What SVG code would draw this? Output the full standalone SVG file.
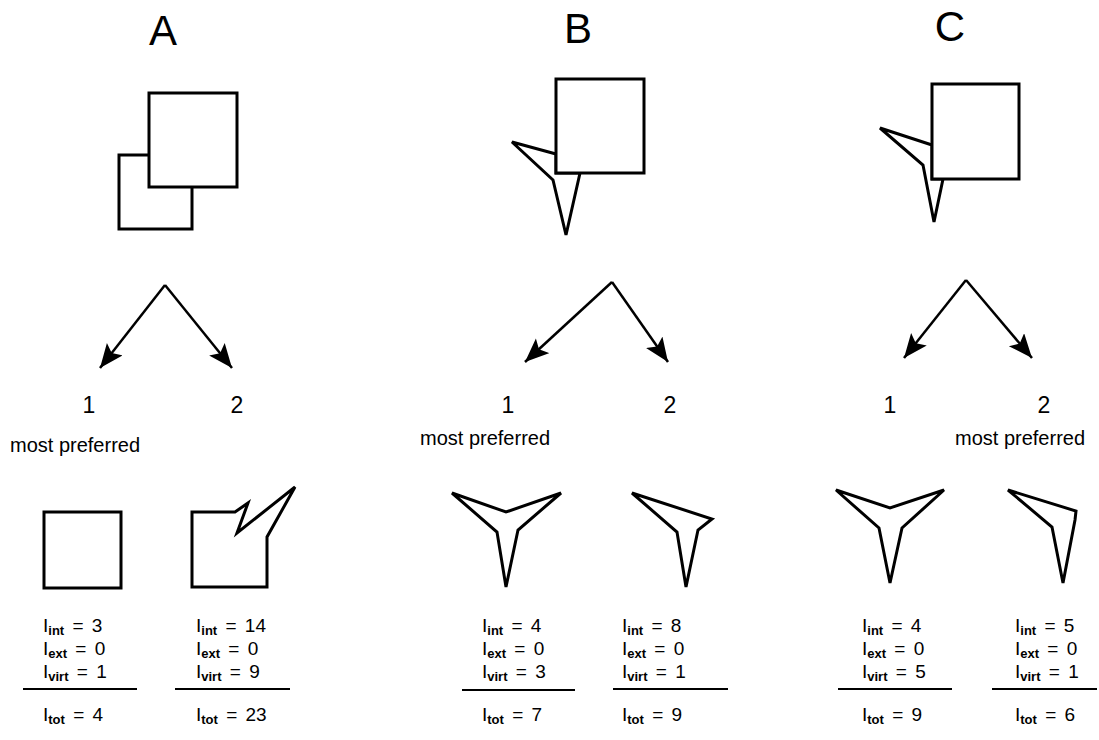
<svg xmlns="http://www.w3.org/2000/svg" width="1099" height="740" viewBox="0 0 1099 740">
<style>
text{font-family:"Liberation Sans",Arial,sans-serif;fill:#000}
.big{font-size:42px}
.num{font-size:23px}
.pref{font-size:20px}
.eq{font-size:19px;word-spacing:3px}
.sub{font-size:13px;font-weight:bold}
.shape{fill:#fff;stroke:#000;stroke-width:3;stroke-linejoin:miter}
.conn{stroke:#000;stroke-width:2.5;fill:none}
.rule{stroke:#000;stroke-width:2}
</style>
<defs>
<marker id="ah" markerUnits="userSpaceOnUse" markerWidth="28" markerHeight="22" refX="24" refY="10" orient="auto">
<path d="M0,0 L24,10 L0,20 L5,10 Z" fill="#000"/>
</marker>
</defs>
<rect width="1099" height="740" fill="#fff"/>

<text class="big" x="163" y="45" text-anchor="middle">A</text>
<text class="big" x="578" y="43" text-anchor="middle">B</text>
<text class="big" x="950" y="41" text-anchor="middle">C</text>

<g id="A-input">
<rect class="shape" x="119" y="155" width="73" height="74"/>
<rect class="shape" x="149" y="93" width="88" height="94"/>
</g>
<g id="B-input">
<polygon class="shape" points="556,154 512,142 553,180 566,235 580,173 556,173"/>
<rect class="shape" x="556" y="79" width="88" height="94"/>
</g>
<g id="C-input">
<polygon class="shape" points="932,145 880,128 923,165 934,222 943,179 932,179"/>
<rect class="shape" x="932" y="84" width="87" height="95"/>
</g>

<g id="connectors">
<path class="conn" d="M165,285 L100,368" marker-end="url(#ah)"/>
<path class="conn" d="M165,285 L232,368" marker-end="url(#ah)"/>
<path class="conn" d="M612,282 L525,362" marker-end="url(#ah)"/>
<path class="conn" d="M612,282 L668,362" marker-end="url(#ah)"/>
<path class="conn" d="M966,280 L904,358" marker-end="url(#ah)"/>
<path class="conn" d="M966,280 L1032,358" marker-end="url(#ah)"/>
</g>

<text class="num" x="89" y="413" text-anchor="middle">1</text>
<text class="num" x="237" y="413" text-anchor="middle">2</text>
<text class="num" x="508" y="413" text-anchor="middle">1</text>
<text class="num" x="670" y="413" text-anchor="middle">2</text>
<text class="num" x="890" y="413" text-anchor="middle">1</text>
<text class="num" x="1044" y="413" text-anchor="middle">2</text>

<text class="pref" x="10" y="452">most preferred</text>
<text class="pref" x="420" y="445">most preferred</text>
<text class="pref" x="955" y="445">most preferred</text>

<g id="A1">
<rect class="shape" x="44" y="512" width="77" height="76"/>
</g>
<g id="A2">
<polygon class="shape" points="192,512 235,512 248,503 237,533 295,487 267,537 267,587 192,587"/>
</g>
<g id="B1">
<polygon class="shape" points="452,493 506,512 561,493 518,530 506,587 497,532"/>
</g>
<g id="B2">
<polygon class="shape" points="632,493 712,519 698,530 686,587 677,532"/>
</g>
<g id="C1">
<polygon class="shape" points="836,490 890,508 944,490 902,528 890,583 879,528"/>
</g>
<g id="C2">
<polygon class="shape" points="1008,490 1076,511 1075,520 1063,583 1052,527"/>
</g>

<g id="A1-scores">
<text class="eq" x="43" y="632">I<tspan class="sub" dy="3">int</tspan><tspan dy="-3"> = 3</tspan></text>
<text class="eq" x="43" y="655">I<tspan class="sub" dy="3">ext</tspan><tspan dy="-3"> = 0</tspan></text>
<text class="eq" x="43" y="678">I<tspan class="sub" dy="3">virt</tspan><tspan dy="-3"> = 1</tspan></text>
<line class="rule" x1="23" y1="689" x2="137" y2="689"/>
<text class="eq" x="43" y="721">I<tspan class="sub" dy="3">tot</tspan><tspan dy="-3"> = 4</tspan></text>
</g>
<g id="A2-scores">
<text class="eq" x="196" y="632">I<tspan class="sub" dy="3">int</tspan><tspan dy="-3"> = 14</tspan></text>
<text class="eq" x="196" y="655">I<tspan class="sub" dy="3">ext</tspan><tspan dy="-3"> = 0</tspan></text>
<text class="eq" x="196" y="678">I<tspan class="sub" dy="3">virt</tspan><tspan dy="-3"> = 9</tspan></text>
<line class="rule" x1="175" y1="689" x2="290" y2="689"/>
<text class="eq" x="196" y="721">I<tspan class="sub" dy="3">tot</tspan><tspan dy="-3"> = 23</tspan></text>
</g>
<g id="B1-scores">
<text class="eq" x="482" y="632">I<tspan class="sub" dy="3">int</tspan><tspan dy="-3"> = 4</tspan></text>
<text class="eq" x="482" y="655">I<tspan class="sub" dy="3">ext</tspan><tspan dy="-3"> = 0</tspan></text>
<text class="eq" x="482" y="678">I<tspan class="sub" dy="3">virt</tspan><tspan dy="-3"> = 3</tspan></text>
<line class="rule" x1="462" y1="690" x2="575" y2="690"/>
<text class="eq" x="482" y="721">I<tspan class="sub" dy="3">tot</tspan><tspan dy="-3"> = 7</tspan></text>
</g>
<g id="B2-scores">
<text class="eq" x="622" y="632">I<tspan class="sub" dy="3">int</tspan><tspan dy="-3"> = 8</tspan></text>
<text class="eq" x="622" y="655">I<tspan class="sub" dy="3">ext</tspan><tspan dy="-3"> = 0</tspan></text>
<text class="eq" x="622" y="678">I<tspan class="sub" dy="3">virt</tspan><tspan dy="-3"> = 1</tspan></text>
<line class="rule" x1="613" y1="689" x2="728" y2="689"/>
<text class="eq" x="622" y="721">I<tspan class="sub" dy="3">tot</tspan><tspan dy="-3"> = 9</tspan></text>
</g>
<g id="C1-scores">
<text class="eq" x="862" y="632">I<tspan class="sub" dy="3">int</tspan><tspan dy="-3"> = 4</tspan></text>
<text class="eq" x="862" y="655">I<tspan class="sub" dy="3">ext</tspan><tspan dy="-3"> = 0</tspan></text>
<text class="eq" x="862" y="678">I<tspan class="sub" dy="3">virt</tspan><tspan dy="-3"> = 5</tspan></text>
<line class="rule" x1="838" y1="689" x2="952" y2="689"/>
<text class="eq" x="862" y="721">I<tspan class="sub" dy="3">tot</tspan><tspan dy="-3"> = 9</tspan></text>
</g>
<g id="C2-scores">
<text class="eq" x="1015" y="632">I<tspan class="sub" dy="3">int</tspan><tspan dy="-3"> = 5</tspan></text>
<text class="eq" x="1015" y="655">I<tspan class="sub" dy="3">ext</tspan><tspan dy="-3"> = 0</tspan></text>
<text class="eq" x="1015" y="678">I<tspan class="sub" dy="3">virt</tspan><tspan dy="-3"> = 1</tspan></text>
<line class="rule" x1="992" y1="689" x2="1097" y2="689"/>
<text class="eq" x="1015" y="721">I<tspan class="sub" dy="3">tot</tspan><tspan dy="-3"> = 6</tspan></text>
</g>
</svg>
